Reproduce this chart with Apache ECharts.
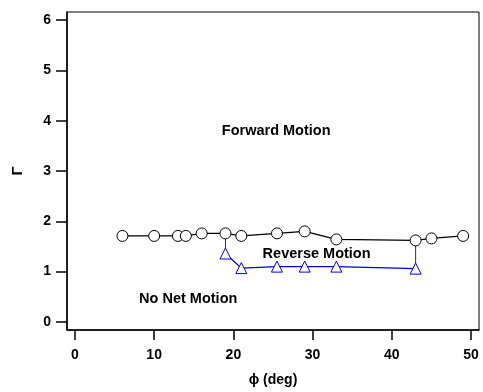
<!DOCTYPE html>
<html>
<head>
<meta charset="utf-8">
<script src="https://cdn.jsdelivr.net/npm/echarts@6/dist/echarts.min.js"></script>
<style>
  html, body { margin: 0; padding: 0; background: #fff; }
  #chart { width: 483px; height: 392px; }
</style>
</head>
<body>
<div id="chart"></div>
<script>
// forward / reverse boundary (circles)
const phiUpper = [6, 10, 13, 14, 16, 19, 21, 25.5, 29, 33, 43, 45, 49]
const gammaUpper = [1.71, 1.71, 1.71, 1.71, 1.76, 1.76, 1.71, 1.76, 1.8, 1.64, 1.62, 1.66, 1.71]

// reverse / no-net boundary (triangles)
const phiLower = [19, 21, 25.5, 29, 33, 43]
const gammaLower = [1.36, 1.07, 1.1, 1.1, 1.1, 1.06]

// vertical closing edges of the reverse region
const edgePhi = [19, 43]
const edgeTop = [1.76, 1.62]
const edgeBottom = [1.36, 1.06]

// region labels
const regionNames = ["Forward Motion", "Reverse Motion", "No Net Motion"]
const regionPhi = [25.4, 30.5, 14.3]
const regionGamma = [3.79, 1.36, 0.45]

const xTicks = [0, 10, 20, 30, 40, 50]
const yTicks = [0, 1, 2, 3, 4, 5, 6]

const font = "Liberation Sans, Arial, sans-serif"
const chart = echarts.init(document.getElementById("chart"))

const edgeSeries = edgePhi.map((p, i) => ({
  type: "line",
  symbol: "none",
  lineStyle: { color: "#333", width: 1 },
  data: [[p, edgeTop[i]], [p, edgeBottom[i]]],
  z: 1,
}))

chart.setOption({
  animation: false,
  grid: {
    left: 67,
    right: 4,
    top: 12,
    bottom: 61,
    show: true,
    borderColor: "#000",
    borderWidth: 1,
  },
  xAxis: {
    type: "value",
    min: -1,
    max: 51,
    splitLine: { show: false },
    axisLine: { onZero: false, lineStyle: { color: "#000", width: 1.5 } },
    axisTick: { customValues: xTicks, length: 10, lineStyle: { color: "#000", width: 1.5 } },
    axisLabel: {
      customValues: xTicks,
      margin: 18,
      color: "#000",
      fontSize: 14,
      fontWeight: "bold",
      fontFamily: font,
    },
    name: "ϕ (deg)",
    nameLocation: "middle",
    nameGap: 43,
    nameTextStyle: { color: "#000", fontSize: 14, fontWeight: "bold", fontFamily: font },
  },
  yAxis: {
    type: "value",
    min: -0.16,
    max: 6.16,
    splitLine: { show: false },
    axisLine: { onZero: false, lineStyle: { color: "#000", width: 1.5 } },
    axisTick: { customValues: yTicks, length: 11, lineStyle: { color: "#000", width: 1.5 } },
    axisLabel: {
      customValues: yTicks,
      margin: 16,
      color: "#000",
      fontSize: 14,
      fontWeight: "bold",
      fontFamily: font,
    },
    name: "Γ",
    nameLocation: "middle",
    nameGap: 42,
    nameTextStyle: { color: "#000", fontSize: 15, fontWeight: "bold", fontFamily: font },
  },
  series: [
    ...edgeSeries,
    {
      type: "line",
      symbol: "circle",
      symbolSize: 11,
      itemStyle: { color: "#fff", borderColor: "#000", borderWidth: 1 },
      lineStyle: { color: "#000", width: 1.3 },
      data: phiUpper.map((p, i) => [p, gammaUpper[i]]),
      z: 3,
    },
    {
      type: "line",
      symbol: "triangle",
      symbolSize: 11,
      itemStyle: { color: "#fff", borderColor: "#0000dd", borderWidth: 1 },
      lineStyle: { color: "#0000dd", width: 1.3 },
      data: phiLower.map((p, i) => [p, gammaLower[i]]),
      z: 2,
    },
    {
      type: "scatter",
      symbolSize: 0,
      silent: true,
      itemStyle: { opacity: 1 },
      label: {
        show: true,
        position: "inside",
        formatter: (d) => d.name,
        color: "#000",
        fontSize: 14.5,
        fontWeight: "bold",
        fontFamily: font,
      },
      data: regionNames.map((n, i) => ({ name: n, value: [regionPhi[i], regionGamma[i]] })),
      z: 4,
    },
  ],
})
</script>
</body>
</html>
